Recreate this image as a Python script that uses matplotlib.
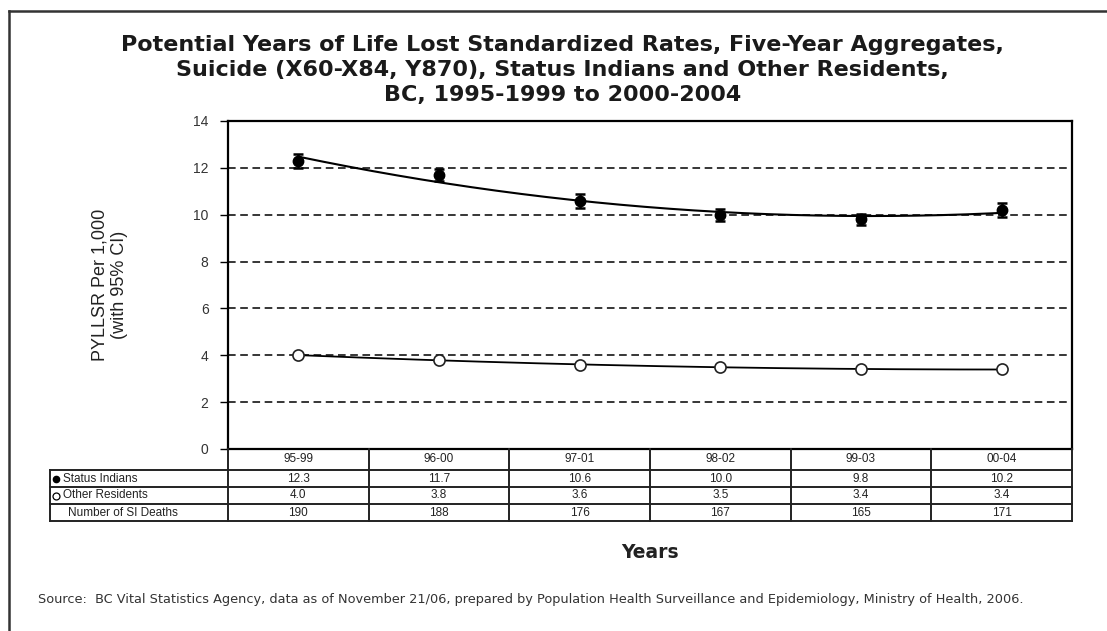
import numpy as np
import matplotlib
matplotlib.use("Agg")
import matplotlib.pyplot as plt
from matplotlib.lines import Line2D

plt.rcParams['font.family'] = ['Liberation Sans', 'DejaVu Sans']

# данные
periods = ["95-99", "96-00", "97-01", "98-02", "99-03", "00-04"]
status_indians = [12.3, 11.7, 10.6, 10.0, 9.8, 10.2]
si_ci_low = [12.0, 11.45, 10.3, 9.75, 9.55, 9.9]
si_ci_high = [12.6, 11.95, 10.9, 10.25, 10.05, 10.5]
other_residents = [4.0, 3.8, 3.6, 3.5, 3.4, 3.4]
si_deaths = [190, 188, 176, 167, 165, 171]

W, H = 1107, 631
fig = plt.figure(figsize=(W / 100, H / 100), dpi=100)

# рамка вокруг рисунка (обрезана справа и снизу)
fig.add_artist(Line2D([9 / W, 9 / W], [0, 1 - 11 / H], color='#333333', lw=1.8))
fig.add_artist(Line2D([9 / W, 1], [1 - 11 / H, 1 - 11 / H], color='#333333', lw=1.8))

# заголовок
fig.text(0.508, 1 - 70 / H,
         "Potential Years of Life Lost Standardized Rates, Five-Year Aggregates,\n"
         "Suicide (X60-X84, Y870), Status Indians and Other Residents,\n"
         "BC, 1995-1999 to 2000-2004",
         ha='center', va='center', fontsize=16, fontweight='bold',
         family='DejaVu Sans', linespacing=1.33, color='#1a1a1a')

left, right = 228 / W, 1072 / W
bottom, top = 1 - 449 / H, 1 - 121 / H
ax = fig.add_axes([left, bottom, right - left, top - bottom])

x = np.arange(1, len(periods) + 1)

# линии сетки
for yv in range(2, 14, 2):
    ax.axhline(yv, color='black', lw=1.1, linestyle=(0, (5, 3)), zorder=1)

# линии тренда (полином 2-й степени)
xs = np.linspace(1, 6, 200)
p_si = np.polyfit(x, status_indians, 2)
p_or = np.polyfit(x, other_residents, 2)
ax.plot(xs, np.polyval(p_si, xs), color='black', lw=1.5, zorder=2)
ax.plot(xs, np.polyval(p_or, xs), color='black', lw=1.3, zorder=2)

# точки с доверительными интервалами
si = np.array(status_indians)
yerr = [si - np.array(si_ci_low), np.array(si_ci_high) - si]
ax.errorbar(x, si, yerr=yerr, fmt='o', color='black', ms=7.5, capsize=3.5,
            elinewidth=1.8, capthick=1.8, zorder=3)
ax.plot(x, other_residents, 'o', mfc='white', mec='#222222', mew=1.2, ms=8, zorder=3)

ax.set_xlim(0.5, 6.5)
ax.set_ylim(0, 14)
ax.set_yticks(range(0, 15, 2))
ax.set_xticks([])
ax.tick_params(axis='y', length=6, width=1, pad=8, labelsize=10, labelcolor='#333333')
for s in ax.spines.values():
    s.set_linewidth(1.6)
ax.set_ylabel("PYLLSR Per 1,000\n(with 95% CI)", fontsize=13, color='#222222',
              linespacing=1.25)
ax.yaxis.set_label_coords(-0.118, 0.5)

# таблица под графиком
tab_bottom = 1 - 521 / H
tab = fig.add_axes([left, tab_bottom, right - left, (521 - 449) / H])
tab.set_xlim(0.5, 6.5)
tab.set_ylim(0, 72)
tab.axis('off')
lab_left = 0.5 - (228 - 50) / (844 / 6)
kw = dict(color='#222222', lw=1.4, clip_on=False)
for yb in [51, 34, 17, 0]:
    tab.plot([lab_left, 6.5], [yb, yb], **kw)
for xv in np.arange(0.5, 7.0, 1.0):
    tab.plot([xv, xv], [0, 72], **kw)
tab.plot([lab_left, lab_left], [0, 51], **kw)

row_centers = [(72 + 51) / 2, (51 + 34) / 2, (34 + 17) / 2, 17 / 2]
tfs = 8.5
for i, p in enumerate(periods):
    tab.text(x[i], row_centers[0], p, ha='center', va='center', fontsize=tfs, color='#222222')
    tab.text(x[i], row_centers[1], f"{status_indians[i]:.1f}", ha='center', va='center', fontsize=tfs, color='#222222')
    tab.text(x[i], row_centers[2], f"{other_residents[i]:.1f}", ha='center', va='center', fontsize=tfs, color='#222222')
    tab.text(x[i], row_centers[3], str(si_deaths[i]), ha='center', va='center', fontsize=tfs, color='#222222')

mk_x = lab_left + 0.04
tab.plot([mk_x], [row_centers[1]], 'o', color='black', ms=4.5, clip_on=False)
tab.plot([mk_x], [row_centers[2]], 'o', mfc='white', mec='black', mew=0.9, ms=5, clip_on=False)
tab.text(mk_x + 0.05, row_centers[1], "Status Indians", ha='left', va='center', fontsize=tfs, color='#222222')
tab.text(mk_x + 0.05, row_centers[2], "Other Residents", ha='left', va='center', fontsize=tfs, color='#222222')
tab.text(lab_left + 0.13, row_centers[3], "Number of SI Deaths", ha='left', va='center', fontsize=tfs, color='#222222')

fig.text(650 / W, 1 - 552 / H, "Years", ha='center', va='center', fontsize=13.5,
         fontweight='bold', family='DejaVu Sans', color='#222222')

fig.text(38 / W, 1 - 600 / H,
         "Source:  BC Vital Statistics Agency, data as of November 21/06, prepared by Population "
         "Health Surveillance and Epidemiology, Ministry of Health, 2006.",
         ha='left', va='center', fontsize=9.3, family='DejaVu Sans', color='#333333')

fig.savefig("out.png", dpi=100)
